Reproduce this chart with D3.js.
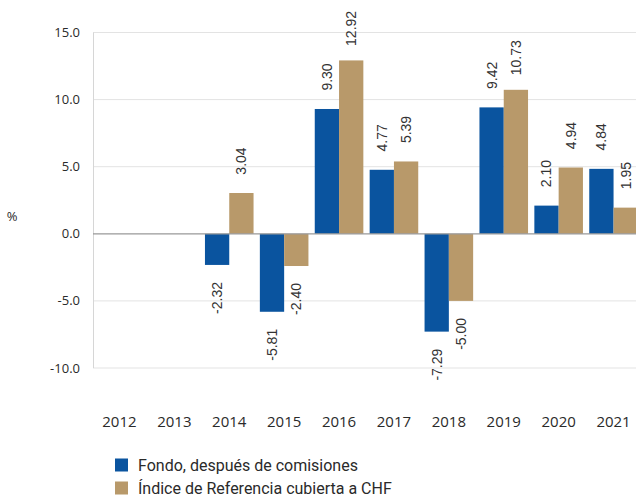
<!DOCTYPE html>
<html><head><meta charset="utf-8">
<script src="https://cdn.jsdelivr.net/npm/d3@7"></script>
<style>body{margin:0;background:#fff}svg{display:block}text{font-family:"Open Sans","Noto Sans",sans-serif;font-weight:400;fill:#2a2a2a}
.val{font-family:"Liberation Sans",Arial,sans-serif;font-weight:400;fill:#333}
.leg{font-family:Roboto,"Open Sans",sans-serif;font-weight:400;fill:#2a2a2a}</style>
</head><body>
<svg id="c" width="636" height="498"></svg>
<script>
const years = ["2012","2013","2014","2015","2016","2017","2018","2019","2020","2021"];
const fondo = [null,null,-2.32,-5.81,9.30,4.77,-7.29,9.42,2.10,4.84];
const indice = [null,null,3.04,-2.40,12.92,5.39,-5.00,10.73,4.94,1.95];
const yTicks = [-10,-5,0,5,10,15];
const seriesNames = ["Fondo, después de comisiones","Índice de Referencia cubierta a CHF"];
const colors = ["#0A549F","#B8996A"];

const fmt1 = d => d3.format(".1f")(d).replace("\u2212","-");
const fmt2 = d => d3.format(".2f")(d).replace("\u2212","-");

const svg = d3.select("#c");
const x0 = d3.scaleBand().domain(years).range([92,641]).paddingInner(0.115).paddingOuter(0.0575);
const x1 = d3.scaleBand().domain([0,1]).range([0,x0.bandwidth()]);
const y = d3.scaleLinear().domain([-10,15]).range([368,32.5]);

// grid
svg.append("g").selectAll("line").data(yTicks.filter(d=>d!==0)).join("line")
  .attr("x1",93).attr("x2",636).attr("y1",d=>y(d)).attr("y2",d=>y(d))
  .attr("stroke","#e3e3e3").attr("stroke-width",1);
svg.append("line").attr("x1",93.5).attr("x2",93.5).attr("y1",y(15)).attr("y2",y(-10)).attr("stroke","#d6d6d6");

// y labels
svg.append("g").selectAll("text").data(yTicks).join("text")
  .attr("x",80).attr("y",d=>y(d)).attr("dy","0.35em").attr("text-anchor","end")
  .style("font-size","13px").text(fmt1);
svg.append("text").attr("x",12).attr("y",216).attr("dy","0.35em").attr("text-anchor","middle").style("font-size","13px").text("%");

const series = [fondo, indice];
series.forEach((vals,si)=>{
  const g = svg.append("g");
  const data = years.map((yr,i)=>({yr,v:vals[i]})).filter(d=>d.v!==null);
  g.selectAll("rect").data(data).join("rect")
    .attr("x",d=>x0(d.yr)+x1(si)).attr("width",x1.bandwidth())
    .attr("y",d=>y(Math.max(0,d.v))).attr("height",d=>Math.abs(y(d.v)-y(0)))
    .attr("fill",colors[si]);
  g.selectAll("text").data(data).join("text").attr("class","val")
    .attr("transform",d=>{
      const cx = x0(d.yr)+x1(si)+x1.bandwidth()/2;
      const cy = d.v>=0 ? y(d.v)-32 : y(d.v)+33;
      return `translate(${cx},${cy}) rotate(-90)`;
    })
    .attr("dy","0.35em").attr("text-anchor","middle")
    .style("font-size","14px").text(d=>fmt2(d.v));
});

// zero line
svg.append("line").attr("x1",93).attr("x2",636).attr("y1",y(0)).attr("y2",y(0)).attr("stroke","#999").attr("stroke-width",1.2);

// x labels
svg.append("g").selectAll("text").data(years).join("text")
  .attr("x",d=>x0(d)+x0.bandwidth()/2).attr("y",422).attr("dy","0.35em").attr("text-anchor","middle")
  .style("font-size","15px").text(d=>d);

// legend
const lg = svg.append("g").selectAll("g").data(seriesNames).join("g")
  .attr("transform",(d,i)=>`translate(115,${465+i*23})`);
lg.append("rect").attr("x",0).attr("y",-6.5).attr("width",13).attr("height",13).attr("fill",(d,i)=>colors[i]);
lg.append("text").attr("class","leg").attr("x",23).attr("y",0).attr("dy","0.35em").style("font-size","16px").text(d=>d);
</script>
</body></html>
